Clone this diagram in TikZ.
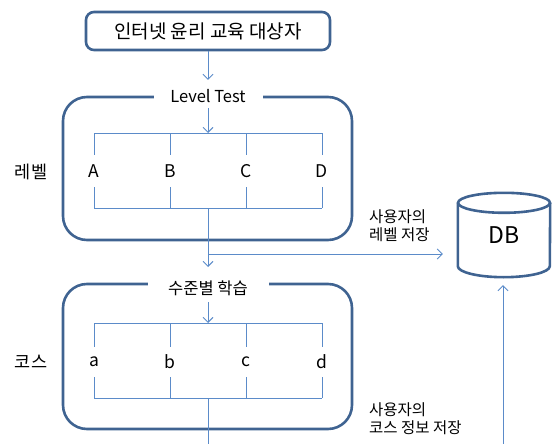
\documentclass[tikz,border=0pt]{standalone}
\usepackage{fontspec}
\setmainfont{Noto Sans CJK KR}
\usetikzlibrary{arrows.meta}
\definecolor{framec}{HTML}{3F6391}
\definecolor{connc}{HTML}{5B8BC9}
\begin{document}
\begin{tikzpicture}[x=1pt,y=-1pt,
  boxframe/.style={draw=framec, line width=2.6pt, rounded corners=#1},
  titlenode/.style={fill=white, inner sep=0pt, minimum height=16pt, font=\fontsize{16.5}{18}\selectfont},
  cline/.style={draw=connc, line width=0.9pt},
  carrow/.style={cline, -{Straight Barb[length=5pt,width=10pt]}},
  lbl/.style={inner sep=0pt, font=\fontsize{17.5}{19}\selectfont},
  side/.style={inner sep=0pt, font=\fontsize{17.5}{19}\selectfont},
  note/.style={inner sep=0pt, align=left, anchor=west, font=\fontsize{15.5}{18}\selectfont},
]
\useasboundingbox (0,0) rectangle (552,444);

% top box
\node[boxframe=8pt, minimum width=244pt, minimum height=38pt, inner sep=0pt,
      font=\fontsize{19}{22}\selectfont] (top) at (208,31) {인터넷 윤리 교육 대상자};

% frames
\node[boxframe=24pt, minimum width=289pt, minimum height=143pt] (frame1) at (207.5,168.5) {};
\node[boxframe=24pt, minimum width=289pt, minimum height=145pt] (frame2) at (207.5,356.5) {};

% titles
\node[titlenode, minimum width=109pt] (title1) at (208,96) {Level Test};
\node[titlenode, minimum width=121pt] (title2) at (208,288) {수준별 학습};

% side labels
\node[side] (lev) at (31,172) {레벨};
\node[side] (crs) at (31,362) {코스};

% bracket 1
\coordinate (t1a) at (94,133);
\coordinate (t1d) at (322,133);
\coordinate (t1m) at (208,133);
\coordinate (b1a) at (94,208);
\coordinate (b1d) at (322,208);
\coordinate (b1m) at (208,208);
\node[lbl, minimum height=32pt] (A) at (94,171) {A};
\node[lbl, minimum height=32pt] (B) at (170,171) {B};
\node[lbl, minimum height=32pt] (C) at (246,171) {C};
\node[lbl, minimum height=32pt] (D) at (322,171) {D};

% bracket 2
\coordinate (t2a) at (94,323);
\coordinate (t2d) at (322,323);
\coordinate (t2m) at (208,323);
\coordinate (b2a) at (94,398);
\coordinate (b2d) at (322,398);
\coordinate (b2m) at (208,398);
\node[lbl, minimum height=30pt] (a) at (94,362) {a};
\node[lbl, minimum height=30pt] (b) at (170,362) {b};
\node[lbl, minimum height=30pt] (c) at (246,362) {c};
\node[lbl, minimum height=30pt] (d) at (322,362) {d};

% DB
\node[inner sep=0pt, minimum width=92pt, minimum height=84pt,
      font=\fontsize{23}{26}\selectfont] (db) at (504,235) {DB};
\draw[framec, line width=2.6pt]
  ([yshift=-10pt]db.north west) -- ([yshift=11pt]db.south west)
  arc[start angle=180, end angle=360, x radius=46pt, y radius=11pt]
  -- ([yshift=-10pt]db.north east);
\draw[framec, line width=2.6pt] ([yshift=-10pt]db.north) ellipse [x radius=46pt, y radius=10pt];

% notes
\node[note] (n1) at (369,226) {사용자의\\레벨 저장};
\node[note] (n2) at (369,419) {사용자의\\코스 정보 저장};

% connectors
\draw[carrow, shorten >=8pt] (top.south) -- (title1.north);
\draw[carrow, shorten <=4pt] (title1.south) -- (t1m);
\draw[cline] (t1a) -- (t1d);
\foreach \n in {A,B,C,D} {
  \draw[cline] (\n.north) -- (\n.north |- t1a);
  \draw[cline] (\n.south) -- (\n.south |- b1a);
}
\draw[cline] (b1a) -- (b1d);
\coordinate (split) at (208,254);
\draw[carrow, shorten >=15pt] (b1m) -- (split) -- (split -| db.west);
\draw[carrow, shorten >=21pt] (split) -- (title2.center);
\draw[carrow, shorten <=6pt] (title2.south) -- (t2m);
\draw[cline] (t2a) -- (t2d);
\foreach \n in {a,b,c,d} {
  \draw[cline] (\n.north) -- (\n.north |- t2a);
  \draw[cline] (\n.south) -- (\n.south |- b2a);
}
\draw[cline] (b2a) -- (b2d);
\coordinate (end1) at (208,444);
\draw[cline] (b2m) -- (end1);
\coordinate (end2) at (503,444);
\draw[carrow, shorten >=8pt] (end2) -- (end2 |- db.south);
\end{tikzpicture}
\end{document}
